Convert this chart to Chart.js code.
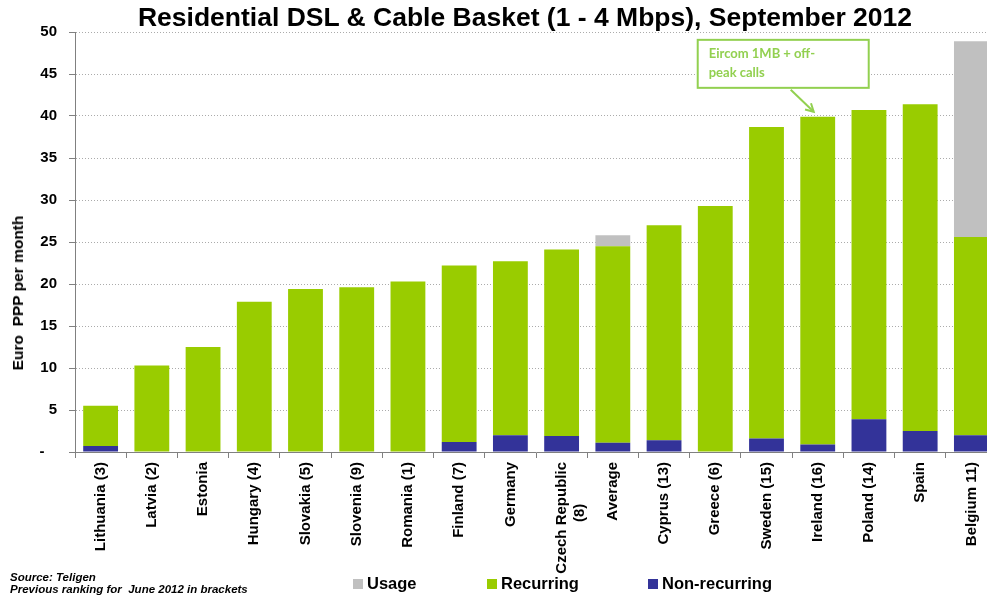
<!DOCTYPE html>
<html>
<head>
<meta charset="utf-8">
<script src="https://cdn.jsdelivr.net/npm/chart.js@4/dist/chart.umd.min.js"></script>
<style>
  html, body { margin: 0; padding: 0; background: #fff; width: 987px; height: 595px; overflow: hidden; position: relative; }
  #wrap { position: absolute; left: 0; top: 0; width: 1000px; height: 595px; }
  #title { position: absolute; left: 0; top: 2px; width: 1050px; text-align: center; font: bold 26.5px "Liberation Sans", Arial, sans-serif; color: #000; white-space: nowrap; }
  #ytitle { position: absolute; left: 18px; top: 293px; transform: translate(-50%, -50%) rotate(-90deg); font: bold 15.5px "Liberation Sans", Arial, sans-serif; white-space: pre; color: #000; }
  #source { position: absolute; left: 10px; top: 571px; font: italic bold 11.5px "Liberation Sans", Arial, sans-serif; line-height: 12px; color: #000; white-space: pre; }
  .lg { position: absolute; top: 574px; font: bold 16.5px "Liberation Sans", Arial, sans-serif; color: #000; white-space: nowrap; }
  .sw { display: inline-block; width: 10px; height: 10px; margin-right: 4px; vertical-align: 0px; }
</style>
</head>
<body>
<div id="wrap"><canvas id="c" width="1000" height="595"></canvas></div>
<div id="title">Residential DSL &amp; Cable Basket (1 - 4 Mbps), September 2012</div>
<div id="ytitle">Euro  PPP per month</div>
<div id="source">Source: Teligen
Previous ranking for  June 2012 in brackets</div>
<div class="lg" style="left:353px"><span class="sw" style="background:#C0C0C0"></span>Usage</div>
<div class="lg" style="left:487px"><span class="sw" style="background:#99CC00"></span>Recurring</div>
<div class="lg" style="left:648px"><span class="sw" style="background:#333399"></span>Non-recurring</div>
<script>
const categories = ["Lithuania (3)", "Latvia (2)", "Estonia", "Hungary (4)", "Slovakia (5)", "Slovenia (9)", "Romania (1)", "Finland (7)", "Germany", ["Czech Republic", "(8)          "], "Average", "Cyprus (13)", "Greece (6)", "Sweden (15)", "Ireland (16)", "Poland (14)", "Spain", "Belgium 11)"];
const nonRecurring = [0.7, 0, 0, 0, 0, 0, 0, 1.2, 2.0, 1.9, 1.1, 1.4, 0, 1.6, 0.9, 3.9, 2.5, 2.0];
const recurring = [4.8, 10.3, 12.5, 17.9, 19.4, 19.6, 20.3, 21.0, 20.7, 22.2, 23.4, 25.6, 29.3, 37.1, 39.0, 36.8, 38.9, 23.6];
const usage = [0, 0, 0, 0, 0, 0, 0, 0, 0, 0, 1.3, 0, 0, 0, 0, 0, 0, 23.3];
const yMax = 50;
const yStep = 5;
const annotationIndex = 14;
const annotationLines = ["Eircom 1MB + off-", "peak calls"];

const annotationPlugin = {
  id: 'eircom',
  afterDatasetsDraw(chart) {
    const ctx = chart.ctx;
    const xs = chart.scales.x, ys = chart.scales.y;
    const total = nonRecurring[annotationIndex] + recurring[annotationIndex] + usage[annotationIndex];
    const tipX = xs.getPixelForValue(annotationIndex) - 4;
    const tipY = ys.getPixelForValue(total) - 5;
    const sx = tipX - 23, sy = tipY - 22;
    const col = '#92D050';
    ctx.save();
    ctx.strokeStyle = col;
    ctx.lineWidth = 2;
    ctx.beginPath();
    ctx.moveTo(sx, sy);
    ctx.lineTo(tipX, tipY);
    ctx.stroke();
    const ang = Math.atan2(tipY - sy, tipX - sx);
    ctx.beginPath();
    ctx.moveTo(tipX - 9 * Math.cos(ang - 0.5), tipY - 9 * Math.sin(ang - 0.5));
    ctx.lineTo(tipX, tipY);
    ctx.lineTo(tipX - 9 * Math.cos(ang + 0.5), tipY - 9 * Math.sin(ang + 0.5));
    ctx.stroke();
    const bx = tipX - 116, by = tipY - 72, bw = 171, bh = 48;
    ctx.fillStyle = '#fff';
    ctx.fillRect(bx, by, bw, bh);
    ctx.strokeRect(bx, by, bw, bh);
    ctx.fillStyle = col;
    ctx.font = 'bold 13px Lato, "Open Sans", sans-serif';
    ctx.textBaseline = 'alphabetic';
    ctx.fillText(annotationLines[0], bx + 11, by + 18);
    ctx.fillText(annotationLines[1], bx + 11, by + 37);
    ctx.restore();
  }
};

new Chart(document.getElementById('c'), {
  type: 'bar',
  data: {
    labels: categories,
    datasets: [
      { label: 'Non-recurring', data: nonRecurring, backgroundColor: '#333399', borderWidth: 0 },
      { label: 'Recurring', data: recurring, backgroundColor: '#99CC00', borderWidth: 0 },
      { label: 'Usage', data: usage, backgroundColor: '#C0C0C0', borderWidth: 0 }
    ]
  },
  options: {
    responsive: false,
    animation: false,
    devicePixelRatio: 1,
    layout: { padding: { top: 32, right: 3, bottom: 0, left: 0 } },
    datasets: { bar: { categoryPercentage: 1.0, barPercentage: 0.68 } },
    plugins: { legend: { display: false }, title: { display: false }, tooltip: { enabled: false } },
    scales: {
      x: {
        stacked: true,
        afterFit(s) { s.height = 143; },
        grid: { display: true, offset: true, drawOnChartArea: false, drawTicks: true, tickLength: 6, tickColor: '#808080', color: '#808080' },
        border: { display: true, color: '#808080', width: 1 },
        ticks: {
          minRotation: 90, maxRotation: 90, autoSkip: false, padding: 4,
          color: '#000', font: { family: '"Liberation Sans", Arial, sans-serif', size: 15, weight: 'bold' }
        }
      },
      y: {
        stacked: true,
        min: 0, max: yMax,
        afterFit(s) { s.width = 75; },
        grid: { display: true, color: '#ABABAB', lineWidth: 1, drawTicks: true, tickLength: 6, tickColor: '#808080', tickBorderDash: [] },
        border: { display: true, color: '#808080', width: 1, dash: [1, 2] },
        ticks: {
          stepSize: yStep, padding: 12, color: '#000',
          font: { family: '"Liberation Sans", Arial, sans-serif', size: 15, weight: 'bold' },
          callback: (v) => v === 0 ? '-   ' : String(v)
        }
      }
    }
  },
  plugins: [annotationPlugin]
});
</script>
</body>
</html>
